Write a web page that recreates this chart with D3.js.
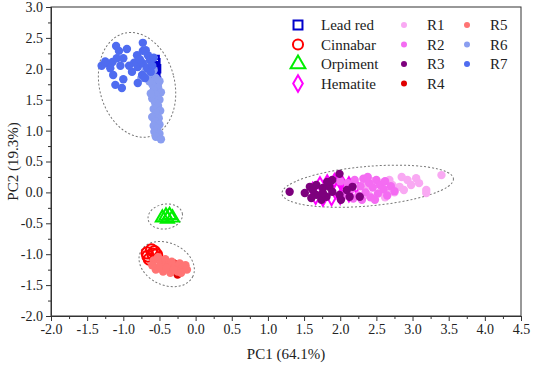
<!DOCTYPE html>
<html>
<head>
<meta charset="utf-8">
<script src="https://cdn.jsdelivr.net/npm/d3@7"></script>
<style>
  body { margin: 0; background: #fff; }
  svg text { font-family: "Liberation Serif", serif; fill: #222; }
</style>
</head>
<body>
<svg width="533" height="368"></svg>
<script>
// scores
const leadRed = [[-0.56,2.15],[-0.55,2.10],[-0.56,2.05],[-0.54,2.00],[-0.56,1.95],[-0.55,1.90],[-0.56,1.85],[-0.54,1.80],[-0.56,1.75],[-0.55,1.70],[-0.56,1.65],[-0.54,1.60]];
const cinnabar = [[-0.67,-0.98],[-0.61,-0.93],[-0.57,-0.96],[-0.64,-1.08],[-0.54,-1.01],[-0.66,-1.03],[-0.59,-1.00]];
const orpiment = [[-0.46,-0.41],[-0.41,-0.38],[-0.36,-0.37],[-0.32,-0.41],[-0.39,-0.43]];
const hematite = [[1.62,0.05],[1.72,0.14],[1.82,0.17],[1.92,0.19],[2.02,0.17],[2.12,0.14],[2.22,0.10],[1.66,-0.08],[1.76,-0.11],[1.88,-0.10],[2.00,-0.08],[2.12,-0.04],[1.95,0.05],[2.05,0.08]];

const r1 = [[2.85,0.25],[2.93,0.20],[3.05,0.23],[2.98,0.12],[2.82,0.09],[2.72,0.12],[3.19,0.04],[3.19,-0.01],[3.40,0.28],[2.64,0.04],[2.68,0.20],[2.58,0.15],[3.09,0.15],[2.88,0.04],[2.35,0.10],[2.45,0.18],[2.55,0.00],[2.40,-0.05],[2.62,-0.08],[2.75,0.00]];
const r2 = [[2.10,0.15],[2.15,0.05],[2.20,0.20],[2.25,-0.05],[2.28,0.10],[2.32,0.22],[2.35,0.00],[2.40,0.15],[2.42,-0.08],[2.45,0.08],[2.50,0.20],[2.52,-0.02],[2.55,0.12],[2.60,0.05],[2.62,0.18],[2.65,-0.05],[2.70,0.10],[2.75,0.02],[2.05,-0.05],[2.18,-0.10],[2.30,-0.12],[2.00,0.18],[2.38,0.25],[2.48,-0.12]];
const r3 = [[1.30,0.01],[1.99,0.30],[1.51,-0.01],[1.58,0.09],[1.67,0.12],[1.76,0.07],[1.85,0.09],[1.89,0.01],[1.74,-0.12],[1.67,-0.04],[1.81,-0.07],[1.99,-0.04],[2.09,0.04],[2.13,-0.07],[2.17,0.09],[2.01,-0.12],[1.62,0.04],[1.89,0.20],[1.82,0.17],[2.27,-0.07],[1.60,-0.09],[1.76,-0.01]];
const r4 = [[-0.22,-1.28],[-0.30,-1.15],[-0.15,-1.20],[-0.45,-1.12],[-0.25,-1.33]];
const r5 = [[-0.58,-1.10],[-0.52,-1.05],[-0.48,-1.15],[-0.42,-1.08],[-0.38,-1.18],[-0.33,-1.12],[-0.28,-1.20],[-0.22,-1.15],[-0.18,-1.22],[-0.14,-1.18],[-0.55,-1.25],[-0.45,-1.28],[-0.35,-1.30],[-0.25,-1.28],[-0.50,-1.20],[-0.40,-1.22],[-0.30,-1.25],[-0.60,-1.18],[-0.12,-1.25],[-0.20,-1.30]];
const r6 = [[-0.55,1.85],[-0.50,1.80],[-0.60,1.75],[-0.52,1.70],[-0.58,1.65],[-0.48,1.62],[-0.55,1.58],[-0.60,1.52],[-0.50,1.50],[-0.56,1.45],[-0.52,1.40],[-0.58,1.35],[-0.49,1.32],[-0.55,1.28],[-0.60,1.22],[-0.51,1.20],[-0.56,1.15],[-0.50,1.10],[-0.58,1.08],[-0.53,1.03],[-0.57,0.98],[-0.50,0.95],[-0.55,0.90],[-0.48,0.86],[-0.62,1.60],[-0.65,1.90],[-0.70,1.95],[-0.68,2.02],[-0.62,2.05],[-0.58,1.98],[-0.75,1.85],[-0.64,1.80]];
const r7 = [[-1.10,2.37],[-0.73,2.42],[-1.06,2.29],[-0.95,2.32],[-1.24,2.09],[-1.15,2.11],[-1.09,2.17],[-1.00,2.17],[-0.81,2.22],[-0.73,2.29],[-0.66,2.22],[-1.18,2.01],[-1.04,2.05],[-1.14,1.90],[-1.00,1.83],[-0.88,1.95],[-0.80,2.03],[-0.73,2.09],[-0.67,2.01],[-0.74,1.90],[-1.11,1.74],[-1.02,1.69],[-0.80,1.77],[-0.63,2.14],[-1.30,2.05],[-1.25,2.12],[-0.60,2.05],[-0.62,1.95],[-0.70,1.85],[-0.58,2.18],[-0.85,2.10],[-0.92,2.05],[-0.77,2.15],[-0.69,2.30]];

// confidence ellipses: centre, semi-axes (in axis units), tilt in degrees
const ellipses = [
  { cx: -0.81, cy: 1.74, rx: 0.52, ry: 0.86, angle: -14 },
  { cx: 2.38, cy: 0.10, rx: 1.19, ry: 0.32, angle: -5 },
  { cx: -0.42, cy: -0.39, rx: 0.24, ry: 0.20, angle: -10 },
  { cx: -0.40, cy: -1.16, rx: 0.40, ry: 0.34, angle: 25 }
];

const xTicks = d3.range(-2, 4.51, 0.5);
const yTicks = d3.range(-2, 3.01, 0.5);

const refs = [
  { name: "Lead red", data: leadRed, shape: d3.symbolSquare, color: "#0000cc", size: 56 },
  { name: "Cinnabar", data: cinnabar, shape: d3.symbolCircle, color: "#ff0000", size: 100 },
  { name: "Orpiment", data: orpiment, shape: d3.symbolTriangle, color: "#00ee00", size: 75 },
  { name: "Hematite", data: hematite, shape: d3.symbolDiamond, color: "#ff00ff", size: 50 }
];
const samples = [
  { name: "R1", data: r1, color: "#f9a9f3" },
  { name: "R2", data: r2, color: "#f46cf2" },
  { name: "R3", data: r3, color: "#7d007d" },
  { name: "R4", data: r4, color: "#e00000" },
  { name: "R5", data: r5, color: "#ff7474" },
  { name: "R6", data: r6, color: "#8a9ef0" },
  { name: "R7", data: r7, color: "#4f6cf0" }
];

const svg = d3.select("svg");
const margin = { left: 51, right: 12, top: 7, bottom: 52 };
const W = 533, H = 368;
const serif = "'Liberation Serif', 'Times New Roman', serif";

const x = d3.scaleLinear().domain([-2, 4.5]).range([margin.left, W - margin.right]);
const y = d3.scaleLinear().domain([-2, 3]).range([H - margin.bottom, margin.top]);

// ellipses
svg.append("g").selectAll("ellipse")
  .data(ellipses)
  .enter()
  .append("ellipse")
  .attr("transform", d => `translate(${x(d.cx)},${y(d.cy)}) rotate(${d.angle})`)
  .attr("rx", d => x(d.cx + d.rx) - x(d.cx))
  .attr("ry", d => y(d.cy) - y(d.cy + d.ry))
  .attr("fill", "none")
  .attr("stroke", "#777")
  .attr("stroke-width", 1)
  .attr("stroke-dasharray", "2,2");

// reference pigments (hollow symbols)
refs.forEach(s => {
  const sym = d3.symbol().type(s.shape).size(s.size);
  svg.append("g").selectAll("path")
    .data(s.data)
    .enter()
    .append("path")
    .attr("transform", d => `translate(${x(d[0])},${y(d[1])})`)
    .attr("d", sym)
    .attr("fill", "none")
    .attr("stroke", s.color)
    .attr("stroke-width", 2);
});

// samples (filled dots)
samples.forEach(s => {
  svg.append("g").selectAll("circle")
    .data(s.data)
    .enter()
    .append("circle")
    .attr("cx", d => x(d[0]))
    .attr("cy", d => y(d[1]))
    .attr("r", 4.2)
    .attr("fill", s.color);
});

// frame
svg.append("rect")
  .attr("x", x(-2)).attr("y", y(3))
  .attr("width", x(4.5) - x(-2)).attr("height", y(-2) - y(3))
  .attr("fill", "none").attr("stroke", "#333").attr("stroke-width", 1);

// axes
const fmt = d => d.toFixed(1);
svg.append("g").attr("transform", `translate(0,${y(-2)})`)
  .call(d3.axisBottom(x).tickValues(xTicks).tickFormat(fmt).tickSize(5).tickPadding(3));
svg.append("g").attr("transform", `translate(0,${y(-2)})`)
  .call(d3.axisBottom(x).tickValues(d3.range(-1.75, 4.5, 0.5)).tickFormat("").tickSize(3));
svg.append("g").attr("transform", `translate(${x(-2)},0)`)
  .call(d3.axisLeft(y).tickValues(yTicks).tickFormat(fmt).tickSize(5).tickPadding(3));
svg.append("g").attr("transform", `translate(${x(-2)},0)`)
  .call(d3.axisLeft(y).tickValues(d3.range(-1.75, 3, 0.5)).tickFormat("").tickSize(3));

svg.selectAll(".domain").attr("stroke", "#333");
svg.selectAll(".tick line").attr("stroke", "#333");
svg.selectAll(".tick text")
  .attr("font-family", serif)
  .attr("font-size", 14)
  .attr("fill", "#222");

svg.append("text")
  .attr("x", (x(-2) + x(4.5)) / 2).attr("y", 359)
  .attr("text-anchor", "middle").attr("font-family", serif).attr("font-size", 15)
  .text("PC1 (64.1%)");
svg.append("text")
  .attr("transform", `translate(18,${(y(-2) + y(3)) / 2}) rotate(-90)`)
  .attr("text-anchor", "middle").attr("font-family", serif).attr("font-size", 15)
  .text("PC2 (19.3%)");

// legend
const legend = svg.append("g").attr("font-family", serif).attr("font-size", 15);
const rowY = i => 25 + i * 19.5;
refs.forEach((s, i) => {
  legend.append("path")
    .attr("transform", `translate(298,${rowY(i)})`)
    .attr("d", d3.symbol().type(s.shape).size(i === 2 ? 95 : 80))
    .attr("fill", "none").attr("stroke", s.color).attr("stroke-width", 2);
  legend.append("text").attr("x", 321).attr("y", rowY(i) + 5).text(s.name);
});
samples.forEach((s, i) => {
  const col = i < 4 ? 0 : 1;
  const row = i < 4 ? i : i - 4;
  const lx = col === 0 ? 404 : 467;
  legend.append("circle").attr("cx", lx).attr("cy", rowY(row)).attr("r", 3).attr("fill", s.color);
  legend.append("text").attr("x", lx + 23).attr("y", rowY(row) + 5).text(s.name);
});
</script>
</body>
</html>
